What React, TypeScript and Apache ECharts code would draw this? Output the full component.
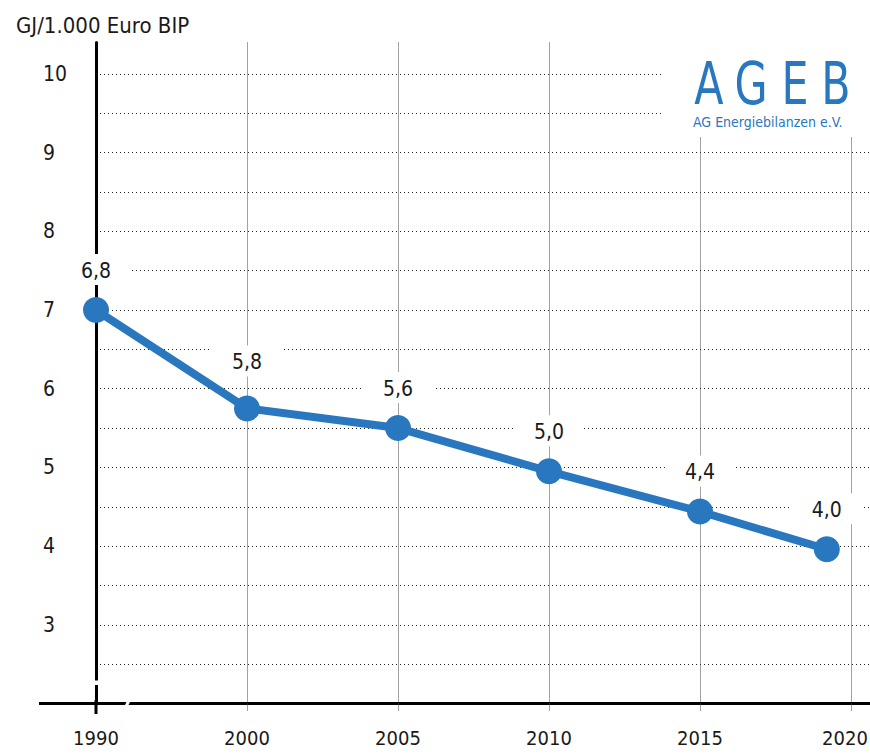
import React, { useEffect, useRef } from "react";
import * as echarts from "echarts";

const YEARS = ["1990", "2000", "2005", "2010", "2015", "2020"];
const X_POS = [0, 1, 2, 3, 4, 4.84];
const VALUES = [7.0, 5.75, 5.5, 4.95, 4.44, 3.96];
const POINT_LABELS = ["6,8", "5,8", "5,6", "5,0", "4,4", "4,0"];
const Y_TICKS = [3, 4, 5, 6, 7, 8, 9, 10];
const LOGO_LETTERS = ["A", "G", "E", "B"];
const LOGO_SUB = "AG Energiebilanzen e.V.";

const FONT = "'Liberation Sans Narrow', 'DejaVu Sans Condensed', 'Roboto', sans-serif";
const BLUE = "#2977bf";
const INK = "#1a1a1a";

const isInt = (v: number) => Math.abs(v - Math.round(v)) < 1e-6;

export default function App() {
  const ref = useRef<HTMLDivElement>(null);
  useEffect(() => {
    if (!ref.current) return;
    const chart = echarts.init(ref.current, null, { renderer: "svg" });
    const data = X_POS.map((x, i) => ({
      value: [x, VALUES[i]],
      label: { distance: i === 1 ? 19 : 12 },
    }));
    const letterX = [709, 751, 795, 836];
    chart.setOption({
      animation: false,
      backgroundColor: "#ffffff",
      title: {
        text: "GJ/1.000 Euro BIP",
        left: 11,
        top: 9,
        textStyle: { fontFamily: FONT, fontSize: 22, fontWeight: "normal", color: INK },
      },
      grid: { left: 96, right: 0, top: 42.5, bottom: 50.5, containLabel: false, outerBoundsMode: "none" },
      xAxis: {
        type: "value",
        min: 0,
        max: 5.126,
        interval: 1,
        axisLine: { show: true, onZero: false, lineStyle: { color: "#000", width: 3 } },
        axisTick: { show: true, length: 8, lineStyle: { color: "#444", type: [1, 1], width: 1 } },
        axisLabel: {
          formatter: (v: number) => {
            if (!isInt(v)) return "";
            const i = Math.round(v);
            if (!YEARS[i]) return "";
            return i === YEARS.length - 1 ? `{last|${YEARS[i]}}` : YEARS[i];
          },
          margin: 24,
          fontFamily: FONT,
          fontSize: 20,
          color: INK,
          rich: {
            last: { fontFamily: FONT, fontSize: 20, color: INK, padding: [0, 12, 0, 0] },
          },
        },
        splitLine: { show: true, showMaxLine: false, lineStyle: { color: "#444", type: [1, 1], width: 1 } },
      },
      yAxis: {
        type: "value",
        min: 2,
        max: 10.4,
        interval: 0.5,
        axisLine: { show: true, onZero: true, lineStyle: { color: "#000", width: 3 } },
        axisTick: { show: false },
        axisLabel: {
          align: "left",
          margin: 53,
          formatter: (v: number) => (isInt(v) && Y_TICKS.indexOf(Math.round(v)) >= 0 ? String(Math.round(v)) : ""),
          fontFamily: FONT,
          fontSize: 21,
          color: INK,
        },
        splitLine: { show: true, showMinLine: false, showMaxLine: false, lineStyle: { color: "#222", type: [1, 3], width: 1 } },
      },
      series: [
        {
          type: "line",
          data,
          symbol: "circle",
          symbolSize: 26,
          lineStyle: { color: BLUE, width: 8 },
          itemStyle: { color: BLUE },
          z: 3,
          label: {
            show: true,
            position: "top",
            formatter: (p: any) => POINT_LABELS[p.dataIndex],
            fontFamily: FONT,
            fontSize: 21,
            color: INK,
            backgroundColor: "#ffffff",
            padding: [6, 20, 4, 20],
          },
        },
      ],
      graphic: [
        { type: "line", z: 50, shape: { x1: 39, y1: 703.5, x2: 97, y2: 703.5 }, style: { stroke: "#000", lineWidth: 3 } },
        { type: "line", z: 50, shape: { x1: 96, y1: 700, x2: 96, y2: 714 }, style: { stroke: "#000", lineWidth: 3 } },
        { type: "rect", z: 51, shape: { x: 92, y: 680.5, width: 8, height: 4.5 }, style: { fill: "#fff" } },
        { type: "polygon", z: 51, shape: { points: [[124, 707], [127.5, 707], [131, 700], [127.5, 700]] }, style: { fill: "#fff" } },
        { type: "rect", z: 60, shape: { x: 661, y: 40, width: 209, height: 97 }, style: { fill: "#fff" } },
        ...LOGO_LETTERS.map((t, i) => ({
          type: "text",
          z: 61,
          x: letterX[i],
          y: 84,
          scaleX: 0.82,
          style: { text: t, x: 0, y: 0, textAlign: "center", textVerticalAlign: "middle", fontFamily: FONT, fontSize: 58, fill: BLUE },
        })),
        { type: "text", z: 61, style: { text: LOGO_SUB, x: 693, y: 122, textAlign: "left", textVerticalAlign: "middle", fontFamily: FONT, fontSize: 14, fill: BLUE } },
      ],
    });
    return () => chart.dispose();
  }, []);
  return <div ref={ref} style={{ position: "fixed", left: 0, top: 0, width: 870, height: 754 }} />;
}
